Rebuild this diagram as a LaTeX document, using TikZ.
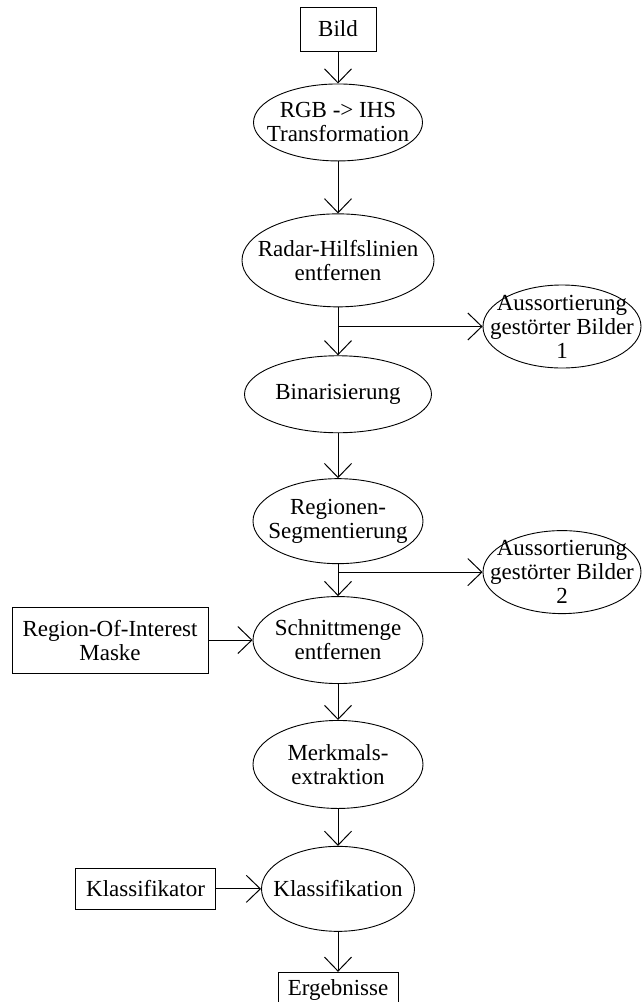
\documentclass[tikz,border=0pt]{standalone}
\usepackage{fontspec}
\setmainfont{Liberation Serif}
\usetikzlibrary{arrows.meta,positioning,calc,shapes.geometric}

\begin{document}
\begin{tikzpicture}[
  x=1pt, y=1pt,
  node distance=32pt and 44pt,
  font=\fontsize{23}{24}\selectfont,
  box/.style={draw, line width=1pt, align=center, inner sep=0pt, minimum width=#1},
  box/.default=76pt,
  proc/.style={draw, ellipse, line width=0.9pt, align=center, inner xsep=-14pt, inner ysep=0pt, minimum width=#1},
  proc/.default=170pt,
  sortout/.style={proc=158pt, inner xsep=-18pt, inner ysep=-8pt, minimum height=83pt},
  arr/.style={-{Straight Barb[length=14pt, width=27pt]}, line width=1pt}
]
\useasboundingbox (0,0) rectangle (643,-1002);

\node[box, minimum height=44pt] (bild) at (338,-29) {Bild};
\node[proc=169pt, minimum height=77pt, below=of bild] (rgb) {RGB -> IHS\\ Transformation};
\node[proc=192pt, minimum height=93pt, below=52pt of rgb] (radar) {Radar-Hilfslinien\\ entfernen};
\node[proc=187pt, minimum height=77pt, below=48pt of radar] (bin) {Binarisierung};
\node[proc, minimum height=85pt, below=45pt of bin] (reg) {Regionen-\\ Segmentierung};
\node[proc, minimum height=87pt, below=of reg] (schn) {Schnittmenge\\ entfernen};
\node[proc, minimum height=88pt, below=36pt of schn] (merk) {Merkmals-\\ extraktion};
\node[proc=153pt, minimum height=85pt, below=37pt of merk] (klass) {Klassifikation};
\node[box=120pt, minimum height=36pt, below=40pt of klass] (erg) {Ergebnisse};

\node[sortout] (aus1) at ($(radar.south)!0.4!(bin.north)+(224,0)$) {Aussortierung\\ gestörter Bilder\\ 1};
\node[sortout] (aus2) at ($(reg.south)!0.25!(schn.north)+(224,0)$) {Aussortierung\\ gestörter Bilder\\ 2};
\node[box=196pt, minimum height=66pt, left=of schn] (roi) {Region-Of-Interest\\ Maske};
\node[box=140pt, minimum height=41pt, left=45pt of klass] (kl) {Klassifikator};

\draw[arr] (bild) -- (rgb);
\draw[arr] (rgb) -- (radar);
\draw[arr] (radar) -- (bin);
\draw[arr] (bin) -- (reg);
\draw[arr] (reg) -- (schn);
\draw[arr] (schn) -- (merk);
\draw[arr] (merk) -- (klass);
\draw[arr] (klass) -- (erg);
\draw[arr] (radar.south |- aus1.west) -- (aus1.west);
\draw[arr] (reg.south |- aus2.west) -- (aus2.west);
\draw[arr] (roi) -- (schn);
\draw[arr] (kl) -- (klass);
\end{tikzpicture}
\end{document}
